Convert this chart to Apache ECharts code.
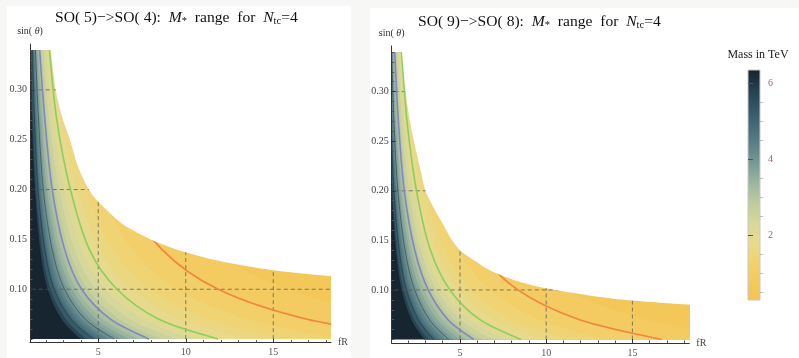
<!DOCTYPE html>
<html><head><meta charset="utf-8">
<script src="https://cdn.jsdelivr.net/npm/echarts@6/dist/echarts.min.js"></script>
<style>html,body{margin:0;padding:0;background:#f7f7f5}#c{width:799px;height:358px}</style>
</head><body><div id="c"></div>
<script>
// ---------------- data ----------------
const S_GRID = [0.05, 0.07, 0.10, 0.14, 0.20, 0.27, 0.34];           // sin(theta) sample heights
const LEVELS = [0.75,1,1.25,1.5,1.75,2,2.25,2.5,2.75,3,3.25,3.5,3.75,4,4.25,4.5,4.75,5,5.5,6]; // mass contour levels (TeV)
// fR position of each mass contour at the S_GRID heights
const P1_CONTOUR_FR = [
 [31.6,22.57,15.8,11.51,8.22,6.26,5.07],
 [23.7,16.93,11.85,8.63,6.22,4.74,3.83],
 [18.96,13.54,9.53,6.94,5.05,3.86,3.16],
 [15.8,11.29,7.98,5.81,4.27,3.28,2.72],
 [13.54,9.67,6.89,5.05,3.77,2.91,2.43],
 [11.85,8.46,6.07,4.49,3.41,2.63,2.21],
 [10.53,7.54,5.40,4.02,3.05,2.40,2.02],
 [9.48,6.81,4.86,3.64,2.77,2.21,1.87],
 [8.62,6.21,4.42,3.33,2.55,2.07,1.75],
 [7.9,5.70,4.05,3.08,2.37,1.95,1.65],
 [7.29,5.26,3.75,2.86,2.21,1.84,1.58],
 [6.77,4.89,3.50,2.67,2.08,1.74,1.51],
 [6.32,4.56,3.28,2.51,1.97,1.66,1.46],
 [5.92,4.27,3.08,2.37,1.86,1.59,1.41],
 [5.58,4.03,2.91,2.25,1.78,1.52,1.36],
 [5.27,3.82,2.75,2.13,1.70,1.46,1.32],
 [4.99,3.63,2.61,2.04,1.63,1.41,1.28],
 [4.74,3.45,2.49,1.95,1.56,1.36,1.24],
 [4.31,3.14,2.27,1.79,1.45,1.27,1.17],
 [3.95,2.88,2.09,1.66,1.36,1.19,1.10]
];
const P2_CONTOUR_FR = [
 [22.2,15.86,11.1,8.09,5.77,4.40,3.56],
 [16.7,11.93,8.35,6.08,4.38,3.34,2.70],
 [13.44,9.6,6.75,4.92,3.58,2.74,2.24],
 [11.24,8.03,5.68,4.13,3.03,2.33,1.93],
 [9.7,6.93,4.94,3.62,2.70,2.08,1.74],
 [8.54,6.16,4.42,3.29,2.48,1.93,1.61],
 [7.62,5.52,3.98,2.98,2.24,1.76,1.48],
 [6.88,5.04,3.65,2.73,2.05,1.63,1.38],
 [6.3,4.64,3.39,2.54,1.90,1.52,1.29],
 [5.8,4.31,3.16,2.38,1.77,1.43,1.21],
 [5.36,3.98,2.92,2.21,1.65,1.35,1.16],
 [4.98,3.70,2.71,2.06,1.56,1.28,1.11],
 [4.65,3.45,2.53,1.93,1.47,1.22,1.07],
 [4.36,3.24,2.38,1.82,1.40,1.17,1.04],
 [4.10,3.05,2.23,1.72,1.33,1.12,1.00],
 [3.87,2.87,2.11,1.63,1.27,1.08,0.97],
 [3.67,2.73,2.00,1.55,1.22,1.04,0.94],
 [3.49,2.59,1.90,1.48,1.17,1.00,0.91],
 [3.17,2.35,1.74,1.36,1.09,0.93,0.86],
 [2.91,2.16,1.60,1.26,1.02,0.87,0.81]
];
// upper edge of the allowed region
const P1_BOUNDARY_FR = [2.28,2.57,2.95,3.38,3.85,4.43,5.0,6.2,7.0,8.0,9.0,10.0,12.0,15.0,18.3];
const P1_BOUNDARY_S  = [0.34,0.30,0.272,0.25,0.223,0.201,0.188,0.168,0.159,0.150,0.143,0.137,0.128,0.119,0.113];
const P2_BOUNDARY_FR = [1.64,1.85,2.1,2.39,2.7,3.0,3.5,4.03,4.5,5.0,5.5,6.0,6.6,7.32,8.5,10.0,12.5,15.0,18.3];
const P2_BOUNDARY_S  = [0.34,0.30,0.27,0.245,0.222,0.200,0.182,0.166,0.151,0.140,0.1335,0.128,0.121,0.1152,0.108,0.1017,0.0945,0.0893,0.085];
const LINE_LEVELS = [6,5,4,3,2,1];   // drawn contour lines
const X_MAJOR = [5,10,15];
const X_MINOR = [2,3,4,6,7,8,9,11,12,13,14,16,17,18];
const Y_MAJOR = [0.10,0.15,0.20,0.25,0.30];
const Y_MINOR = [0.05,0.06,0.07,0.08,0.09,0.11,0.12,0.13,0.14,0.16,0.17,0.18,0.19,0.21,0.22,0.23,0.24,0.26,0.27,0.28,0.29,0.31,0.32,0.33,0.34];
const X_GRID = [5,10,15];
const Y_GRID = [0.1,0.2,0.3];
const CB_MAJOR = [2,4,6];
const CB_MINOR = [0.5,1,1.5,2.5,3,3.5,4.5,5,5.5];
const MASS_MIN = 0.3, MASS_MAX = 6.35;
const PALETTE = ['#f3c453','#f3ca5d','#f1d26f','#e9da8c','#d9d899','#c0cc9e','#9fb8a0','#7c9c97','#5e8388','#466c78','#345565','#253f4e','#16222d'];

// ---------------- styles / layout ----------------
const SERIF = "'Liberation Serif','DejaVu Serif',serif";
const LINE_STYLE = {
  1:{stroke:'#f2843e',w:1.6}, 2:{stroke:'#8ccf5c',w:1.6}, 3:{stroke:'#7f87c6',w:1.6},
  4:{stroke:'rgba(25,35,45,0.55)',w:0.8}, 5:{stroke:'rgba(25,35,45,0.55)',w:0.8}, 6:{stroke:'rgba(20,28,36,0.6)',w:0.8}
};
const PANELS = [
  {grid:{left:30,top:44,width:301,height:298.6}, xmin:1.1, table:P1_CONTOUR_FR, bf:P1_BOUNDARY_FR, bs:P1_BOUNDARY_S},
  {grid:{left:391.7,top:46,width:297.6,height:297}, xmin:1.04, table:P2_CONTOUR_FR, bf:P2_BOUNDARY_FR, bs:P2_BOUNDARY_S}
];
const XMAX = 18.3, YMIN = 0.0465, YMAX = 0.346, XBIG = 40;
const S_LO = S_GRID[0], S_HI = S_GRID[S_GRID.length-1];

function crPath(pts, moveFirst){
  let d = (moveFirst?'M':'L') + pts[0][0].toFixed(2)+' '+pts[0][1].toFixed(2);
  for (let i=0;i<pts.length-1;i++){
    const p0=pts[i-1]||pts[i], p1=pts[i], p2=pts[i+1], p3=pts[i+2]||pts[i+1];
    const c1=[p1[0]+(p2[0]-p0[0])/6, p1[1]+(p2[1]-p0[1])/6];
    const c2=[p2[0]-(p3[0]-p1[0])/6, p2[1]-(p3[1]-p1[1])/6];
    d += ' C'+c1[0].toFixed(2)+' '+c1[1].toFixed(2)+' '+c2[0].toFixed(2)+' '+c2[1].toFixed(2)+' '+p2[0].toFixed(2)+' '+p2[1].toFixed(2);
  }
  return d;
}
function P(api,x,y){const p=api.coord([x,y]);return p[0].toFixed(2)+' '+p[1].toFixed(2);}

const grids=[], xAxes=[], yAxes=[], series=[], bandSeriesIdx=[];
PANELS.forEach((pn,pi)=>{
  grids.push(Object.assign({outerBoundsMode:'none',containLabel:false}, pn.grid));
  xAxes.push({gridIndex:pi,type:'value',min:pn.xmin,max:XMAX,position:'bottom',z:10,
    axisLine:{show:true,onZero:false,lineStyle:{color:'#333',width:1}},
    axisTick:{show:true,inside:true,length:4,customValues:X_MAJOR,lineStyle:{color:'#333'}},
    axisLabel:{customValues:X_MAJOR,color:'#555',fontFamily:SERIF,fontSize:10,margin:5},
    splitLine:{show:false}, name:'fR', nameLocation:'end', nameGap:7,
    nameTextStyle:{fontFamily:SERIF,fontSize:10,color:'#444',verticalAlign:'middle'}});
  xAxes.push({gridIndex:pi,type:'value',min:pn.xmin,max:XMAX,position:'bottom',z:10,
    axisLine:{show:false},axisTick:{show:true,inside:true,length:2.5,customValues:X_MINOR,lineStyle:{color:'#555'}},
    axisLabel:{show:false},splitLine:{show:false}});
  yAxes.push({gridIndex:pi,type:'value',min:YMIN,max:YMAX,position:'left',z:10,
    axisLine:{show:true,onZero:false,lineStyle:{color:'#333',width:1}},
    axisTick:{show:true,inside:true,length:4,customValues:Y_MAJOR,lineStyle:{color:'#333'}},
    axisLabel:{customValues:Y_MAJOR,formatter:v=>v.toFixed(2),color:'#444',fontFamily:SERIF,fontSize:10,margin:3},
    splitLine:{show:false}, name:'{a|sin( }{b|θ}{a|)}', nameLocation:'end', nameGap:8,
    nameTextStyle:{rich:{a:{fontFamily:SERIF,fontSize:10,color:'#333'},b:{fontFamily:SERIF,fontSize:10,fontStyle:'italic',color:'#333'}}}});
  yAxes.push({gridIndex:pi,type:'value',min:YMIN,max:YMAX,position:'left',z:10,
    axisLine:{show:false},axisTick:{show:true,inside:true,length:2.5,customValues:Y_MINOR,lineStyle:{color:'#555'}},
    axisLabel:{show:false},splitLine:{show:false}});
  const xi=pi*2, yi=pi*2;
  // colour bands (painted from high mass to low mass)
  const bandData=[{value:[-1,6.3]}];
  for(let k=LEVELS.length-1;k>=0;k--) bandData.push({value:[k, k>0?(LEVELS[k]+LEVELS[k-1])/2:0.6]});
  bandSeriesIdx.push(series.length);
  series.push({type:'custom',xAxisIndex:xi,yAxisIndex:yi,clip:true,z:1,silent:true,data:bandData,
    renderItem:(params,api)=>{
      const k=api.value(0), fill=api.visual('color');
      if(k<0){
        const d='M'+P(api,0,S_LO)+' L'+P(api,XBIG,S_LO)+' L'+P(api,XBIG,S_HI)+' L'+P(api,0,S_HI)+' Z';
        return {type:'path',shape:{pathData:d},style:{fill}};
      }
      const pts=S_GRID.map((s,j)=>api.coord([pn.table[k][j],s]));
      const d=crPath(pts,true)+' L'+P(api,XBIG,S_HI)+' L'+P(api,XBIG,S_LO)+' Z';
      return {type:'path',shape:{pathData:d},style:{fill}};
    }});
  // dashed grid lines
  const gdata=X_GRID.map(v=>({value:[v,0]})).concat(Y_GRID.map(v=>({value:[v,1]})));
  series.push({type:'custom',xAxisIndex:xi,yAxisIndex:yi,clip:true,z:2,silent:true,data:gdata,
    renderItem:(params,api)=>{
      const v=api.value(0), t=api.value(1);
      const a=t===0?api.coord([v,S_LO]):api.coord([0,v]);
      const b=t===0?api.coord([v,S_HI]):api.coord([XBIG,v]);
      return {type:'line',shape:{x1:a[0],y1:a[1],x2:b[0],y2:b[1]},style:{stroke:'rgba(90,90,90,0.75)',lineWidth:1,lineDash:[4,3]}};
    }});
  // contour lines
  series.push({type:'custom',xAxisIndex:xi,yAxisIndex:yi,clip:true,z:3,silent:true,
    data:LINE_LEVELS.map(L=>({value:[LEVELS.indexOf(L),L]})),
    renderItem:(params,api)=>{
      const k=api.value(0), L=api.value(1), st=LINE_STYLE[L];
      const pts=S_GRID.map((s,j)=>api.coord([pn.table[k][j],s]));
      return {type:'path',shape:{pathData:crPath(pts,true)},style:{fill:'none',stroke:st.stroke,lineWidth:st.w}};
    }});
  // white mask outside the allowed region
  series.push({type:'custom',xAxisIndex:xi,yAxisIndex:yi,clip:true,z:4,silent:true,data:[{value:[0,0]}],
    renderItem:(params,api)=>{
      const b=pn.bf.map((f,i)=>api.coord([f,pn.bs[i]]));
      const n=pn.bs.length;
      const d='M'+P(api,0,pn.bs[0])+' '+crPath(b,false)+' L'+P(api,XBIG,pn.bs[n-1])+' L'+P(api,XBIG,0.6)+' L'+P(api,0,0.6)+' Z';
      return {type:'path',shape:{pathData:d},style:{fill:'#ffffff'}};
    }});
});
// colour bar
grids.push({left:748,top:70,width:12,height:230,outerBoundsMode:'none',containLabel:false});
xAxes.push({gridIndex:2,type:'value',min:0,max:1,show:false});
yAxes.push({gridIndex:2,type:'value',min:MASS_MIN,max:MASS_MAX,position:'right',z:10,
  axisLine:{show:false},axisTick:{show:true,inside:false,length:5,customValues:CB_MAJOR,lineStyle:{color:'#555'}},
  axisLabel:{customValues:CB_MAJOR,color:'#9a6a62',fontFamily:SERIF,fontSize:10,margin:8},splitLine:{show:false}});
yAxes.push({gridIndex:2,type:'value',min:MASS_MIN,max:MASS_MAX,position:'right',z:10,
  axisLine:{show:false},axisTick:{show:true,inside:false,length:3,customValues:CB_MINOR,lineStyle:{color:'#bbb'}},
  axisLabel:{show:false},splitLine:{show:false}});
series.push({type:'custom',xAxisIndex:4,yAxisIndex:4,z:5,silent:true,data:[{value:[0,MASS_MIN]}],
  renderItem:(params,api)=>{
    const a=api.coord([0,MASS_MIN]), b=api.coord([1,MASS_MAX]);
    const stops=PALETTE.map((c,i)=>({offset:i/(PALETTE.length-1),color:c}));
    return {type:'rect',shape:{x:a[0],y:b[1],width:b[0]-a[0],height:a[1]-b[1]},
      style:{fill:new echarts.graphic.LinearGradient(0,1,0,0,stops),stroke:'#c8c8c8',lineWidth:1}};
  }});

function titleText(a,b){
  return '{r|SO( '+a+')−>SO( '+b+'):  }{i|M}{s|*}{r|  range  for  }{i|N}{s|tc}{r|=4}';
}
const titleRich={
  r:{fontSize:15.6,fontFamily:SERIF,fill:'#111',lineHeight:18},
  i:{fontSize:15.6,fontFamily:SERIF,fontStyle:'italic',fill:'#111',lineHeight:18},
  s:{fontSize:10.5,fontFamily:SERIF,fill:'#111',lineHeight:8,verticalAlign:'bottom'}
};
const chart=echarts.init(document.getElementById('c'),null,{renderer:'canvas',width:799,height:358});
chart.setOption({
  backgroundColor:'#f7f7f5',
  animation:false,
  grid:grids, xAxis:xAxes, yAxis:yAxes,
  visualMap:[{type:'continuous',show:false,min:MASS_MIN,max:MASS_MAX,dimension:1,seriesIndex:bandSeriesIdx,inRange:{color:PALETTE}}],
  graphic:{elements:[
    {type:'rect',shape:{x:7,y:6,width:344,height:352},style:{fill:'#ffffff'},z:0,silent:true},
    {type:'rect',shape:{x:370,y:8,width:429,height:350},style:{fill:'#ffffff'},z:0,silent:true},
    {type:'text',x:55,y:18,z:50,style:{text:titleText(5,4),rich:titleRich,align:'left',verticalAlign:'middle'}},
    {type:'text',x:418,y:22,z:50,style:{text:titleText(9,8),rich:titleRich,align:'left',verticalAlign:'middle'}},
    {type:'text',x:758,y:55,z:50,style:{text:'Mass in TeV',fontFamily:SERIF,fontSize:12,fill:'#222',align:'center',verticalAlign:'middle'}}
  ]},
  series:series
});
</script></body></html>
